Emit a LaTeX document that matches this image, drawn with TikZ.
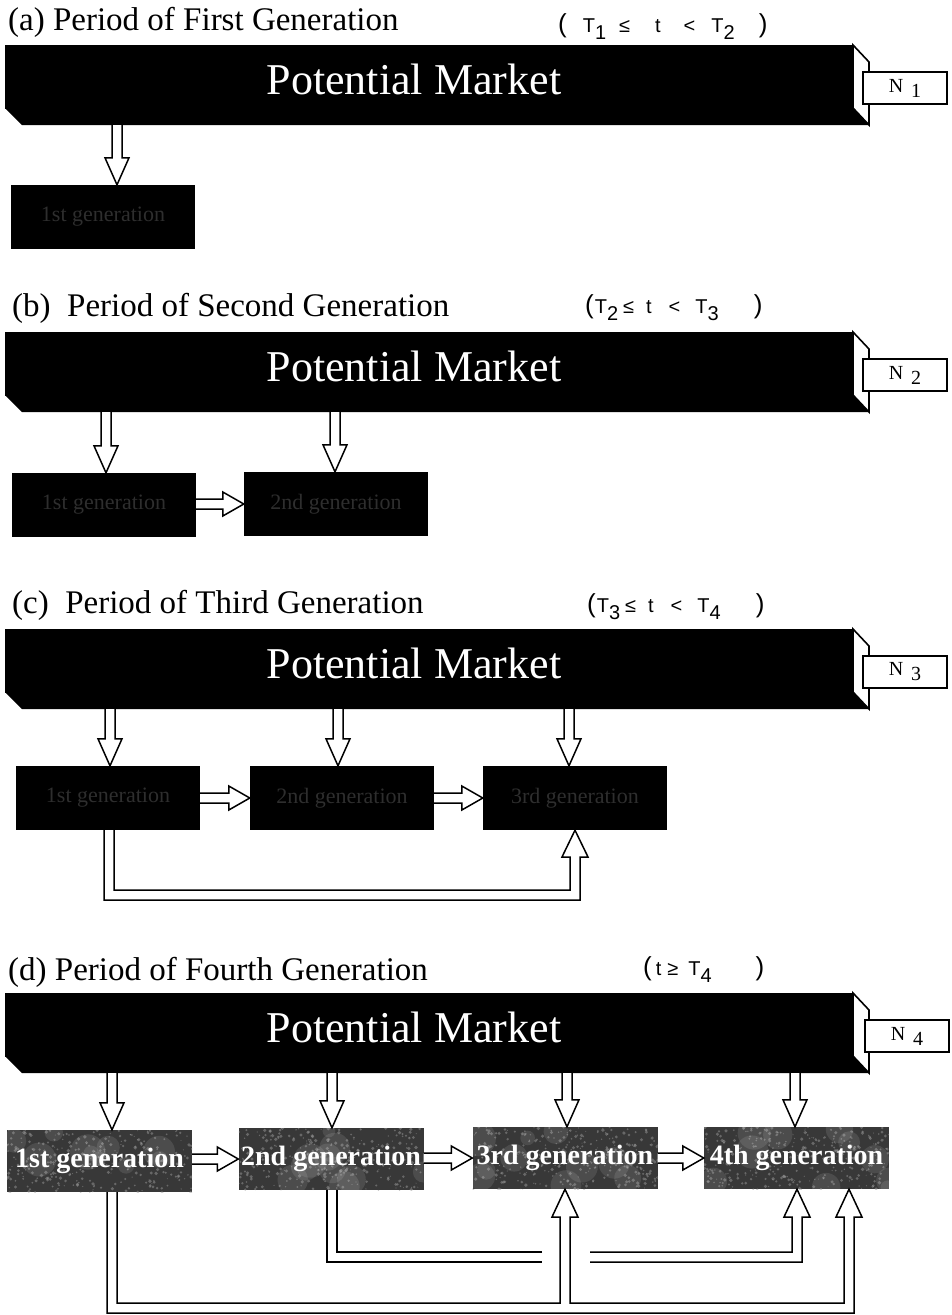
\documentclass[tikz,border=0pt]{standalone}
\usepackage{fontspec}
\setmainfont{Liberation Serif}
\setsansfont{Liberation Sans}
\usetikzlibrary{calc}
\newcommand\LP{{\fontsize{26}{28}\selectfont(}}
\newcommand\RP{{\fontsize{26}{28}\selectfont)}}
\newcommand\lowsub[1]{\raisebox{-7pt}{#1}}
\newcommand\pmbar[2]{%
  \node[barface] (#1) at (429,#2+32) {};
  \fill (5,#2+63) -- (853,#2+63) -- (869,#2+80) -- (22,#2+80) -- cycle;
  \filldraw[sideface] (853,#2) -- (869,#2+17) -- (869,#2+80) -- (853,#2+63) -- cycle;
  \coordinate (#1bot) at (429,#2+80);
  \node[pmtext] (#1t) at (414,#2+49) {Potential Market};
}
\begin{document}
\begin{tikzpicture}[x=1pt,y=-1pt,
  title/.style={anchor=base west, inner sep=0, font=\fontsize{33}{38}\selectfont},
  cond/.style={anchor=base west, inner sep=0, font=\sffamily\fontsize{20}{24}\selectfont},
  barface/.style={fill=black, minimum width=848, minimum height=64, inner sep=0},
  sideface/.style={fill=white, draw=black, line width=1.6pt, line join=miter},
  pmtext/.style={anchor=base, inner sep=0, text=white, font=\fontsize{44}{50}\selectfont},
  nbox/.style={draw=black, line width=1.5pt, fill=white, minimum width=84, minimum height=32, inner sep=0, font=\fontsize{20}{22}\selectfont},
  genbox/.style={fill=black, minimum width=184, minimum height=64, inner sep=0, text=black!82, font=\fontsize{22}{24}\selectfont},
  genD/.style={fill=black!78, minimum width=185, minimum height=62, inner sep=0, text=white, font=\bfseries\fontsize{28}{30}\selectfont,
    path picture={
      \foreach \i in {1,...,320}{
        \fill[black!40, opacity=.5] ($(path picture bounding box.north west)+(rnd*186,rnd*63)$) circle ({(0.5+1.4*rnd)*1pt});
      }
      \foreach \i in {1,...,10}{
        \fill[white, opacity=.10] ($(path picture bounding box.north west)+(rnd*186,rnd*63)$) circle ({(6+12*rnd)*1pt});
      }
    }},
  hollow/.style={fill=white, draw=black, line width=1.5pt, line join=miter},
  hline/.style={draw=black, line width=1.5pt, line join=miter},
  downarr/.style={to path={let \p1=(\tikztostart), \p2=(\tikztotarget) in
    (\x2-5pt,\y1) -- (\x2-5pt,\y2+27pt) -- (\x2-12pt,\y2+27pt) -- (\x2,\y2) -- (\x2+12pt,\y2+27pt) -- (\x2+5pt,\y2+27pt) -- (\x2+5pt,\y1)}},
  rightarr/.style={to path={let \p1=(\tikztostart), \p2=(\tikztotarget) in
    (\x1,\y2+5pt) -- (\x2-21pt,\y2+5pt) -- (\x2-21pt,\y2+12pt) -- (\x2,\y2) -- (\x2-21pt,\y2-12pt) -- (\x2-21pt,\y2-5pt) -- (\x1,\y2-5pt)}}
]
\pgfmathsetseed{11}
\useasboundingbox (0,0) rectangle (951,1315);

% ---------------- (a)
\node[title] (ta) at (8,30) {(a) Period of First Generation};
\node[cond] (ca) at (558,32) {\LP\hspace{16pt}T\lowsub{1}\hspace{13pt}≤\hspace{25pt}t\hspace{23pt}<\hspace{16pt}T\lowsub{2}\hspace{24pt}\RP};
\pmbar{ba}{45}
\node[nbox] (na) at (905,88) {N\hspace{8pt}\raisebox{-5pt}{1}};
\node[genbox] (a1) at (103,217) {1st generation};
\filldraw[hollow] (a1.north |- babot) to[downarr] ($(a1.north)+(14,0)$);

% ---------------- (b)
\node[title] (tb) at (12,316) {(b)\ \ Period of Second Generation};
\node[cond] (cb) at (585,313) {\LP\hspace{1pt}T\lowsub{2}\hspace{5pt}≤\hspace{12pt}t\hspace{17pt}<\hspace{15pt}T\lowsub{3}\hspace{35pt}\RP};
\pmbar{bb}{332}
\node[nbox] (nb) at (905,375) {N\hspace{8pt}\raisebox{-5pt}{2}};
\node[genbox] (b1) at (104,505) {1st generation};
\node[genbox] (b2) at (336,504) {2nd generation};
\filldraw[hollow] (b1.north |- bbbot) to[downarr] ($(b1.north)+(2,0)$);
\filldraw[hollow] (b2.north |- bbbot) to[downarr] ($(b2.north)+(-1,0)$);
\filldraw[hollow] (b1.east) to[rightarr] (b2.west);

% ---------------- (c)
\node[title] (tc) at (12,613) {(c)\ \ Period of Third Generation};
\node[cond] (cc) at (587,612) {\LP\hspace{1pt}T\lowsub{3}\hspace{5pt}≤\hspace{12pt}t\hspace{17pt}<\hspace{15pt}T\lowsub{4}\hspace{35pt}\RP};
\pmbar{bc}{629}
\node[nbox] (nc) at (905,672) {N\hspace{8pt}\raisebox{-5pt}{3}};
\node[genbox] (c1) at (108,798) {1st generation};
\node[genbox] (c2) at (342,798) {2nd generation};
\node[genbox] (c3) at (575,798) {3rd generation};
\filldraw[hollow] (c1.north |- bcbot) to[downarr] ($(c1.north)+(2,0)$);
\filldraw[hollow] (c2.north |- bcbot) to[downarr] ($(c2.north)+(-4,0)$);
\filldraw[hollow] (c3.north |- bcbot) to[downarr] ($(c3.north)+(-6,0)$);
\filldraw[hollow] (c1.east) to[rightarr] (c2.west);
\filldraw[hollow] (c2.east) to[rightarr] (c3.west);
\filldraw[hollow] ($(c1.south)+(-4,0)$) |- (580,900) -- (580,857) -- (588,857) -- (c3.south)
   -- (562,857) -- (570,857) -- (570,890) -| ($(c1.south)+(6,0)$);

% ---------------- (d)
\node[title] (td) at (8,980) {(d) Period of Fourth Generation};
\node[cond] (cd) at (643,975) {\LP\hspace{4pt}t\hspace{6pt}≥\hspace{10pt}T\lowsub{4}\hspace{44pt}\RP};
\pmbar{bd}{993}
\node[nbox] (nd) at (907,1036) {N\hspace{8pt}\raisebox{-5pt}{4}};
\node[genD] (d1) at (99.5,1161) {1st generation};
\node[genD] (d2) at (331,1159) {2nd generation};
\node[genD] (d3) at (565,1158) {3rd generation};
\node[genD] (d4) at (796.5,1158) {4th generation};
\filldraw[hollow] (d1.north |- bdbot) to[downarr] ($(d1.north)+(12.5,0)$);
\filldraw[hollow] (d2.north |- bdbot) to[downarr] ($(d2.north)+(1,0)$);
\filldraw[hollow] (d3.north |- bdbot) to[downarr] ($(d3.north)+(2,0)$);
\filldraw[hollow] (d4.north |- bdbot) to[downarr] ($(d4.north)+(-1.5,0)$);
\filldraw[hollow] (d1.east) to[rightarr] (d2.west);
\filldraw[hollow] (d2.east) to[rightarr] (d3.west);
\filldraw[hollow] (d3.east) to[rightarr] (d4.west);
% feedback from 1st generation to 3rd and 4th
\filldraw[hollow] ($(d1.south)+(7.5,0)$) |- (854,1313) -- (854,1217) -- (862,1217) -- ($(d4.south)+(52.5,0)$)
   -- (836,1217) -- (844,1217) -- (844,1303) -- (570,1303) -- (570,1217) -- (578,1217) -- (d3.south)
   -- (552,1217) -- (560,1217) -- (560,1303) -| ($(d1.south)+(17.5,0)$);
% feedback from 2nd generation to 4th (broken where it crosses)
\draw[hline] ($(d2.south)+(-4,0)$) |- (542,1262) (542,1252) -| ($(d2.south)+(6,0)$);
\filldraw[hollow] (590,1252) -- (792,1252) -- (792,1217) -- (784,1217) -- ($(d4.south)+(0.5,0)$)
   -- (810,1217) -- (802,1217) -- (802,1262) -- (590,1262);
\end{tikzpicture}
\end{document}
